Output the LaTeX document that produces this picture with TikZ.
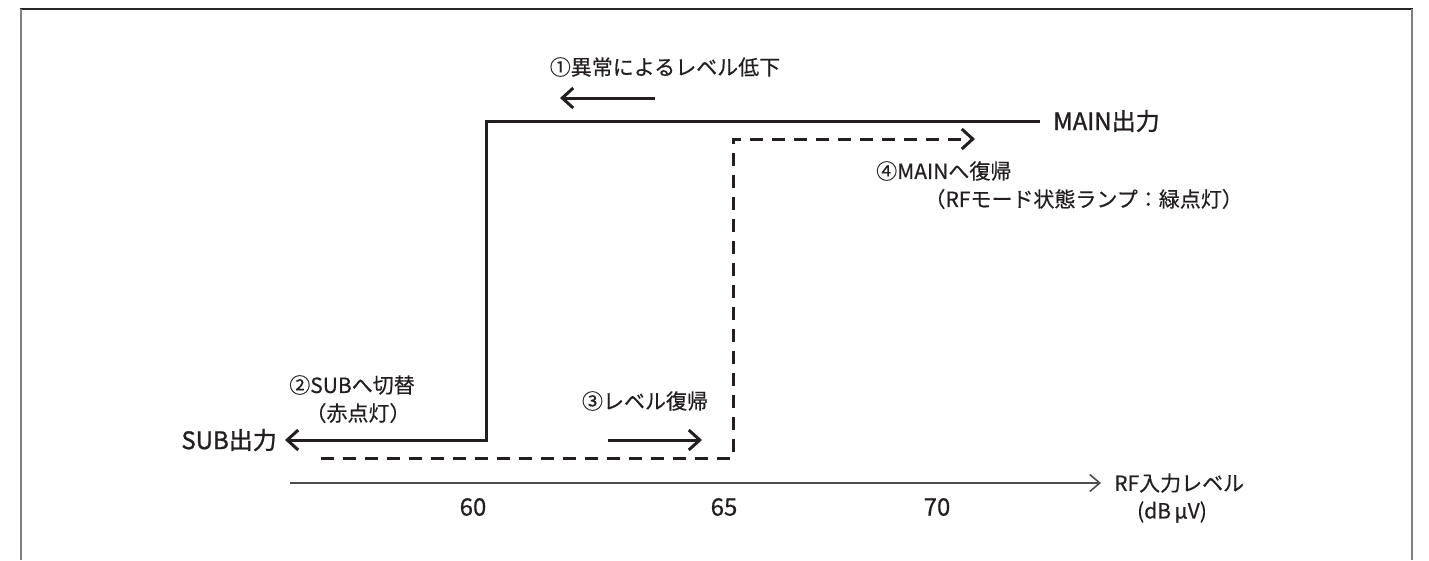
\documentclass[tikz,border=0pt]{standalone}
\usepackage{fontspec}
\setmainfont{Noto Sans CJK JP}
\newfontface\jpmed{Noto Sans CJK JP}[FakeBold=0.5]
\newfontface\jpbold{Noto Sans CJK JP}[FakeBold=1.2]
\usetikzlibrary{arrows.meta}
\definecolor{ink}{HTML}{231F20}
\tikzset{
  lbl/.style={inner sep=0pt, text=ink, font=\jpmed\fontsize{21}{25}\selectfont},
  numlbl/.style={inner sep=0pt, text=ink, font=\jpmed\fontsize{24}{28}\selectfont},
  biglbl/.style={inner sep=0pt, text=ink, font=\jpbold\fontsize{24}{28}\selectfont},
  solidline/.style={line width=3pt, draw=ink},
  dashline/.style={line width=3pt, draw=ink, dash pattern=on 13pt off 9pt},
  barb/.style={-{Straight Barb[length=11pt,width=20pt,line width=3pt]}},
  axisline/.style={line width=1.8pt, draw=ink!80, -{Straight Barb[length=10pt,width=17pt,line width=1.6pt]}},
  frameline/.style={line width=2pt}
}
\begin{document}
\begin{tikzpicture}[x=1pt,y=-1pt]
\useasboundingbox (0,0) rectangle (1429,560);
% frame
\draw[frameline, draw=black!85] (20,9) -- (1413,9);
\draw[frameline, draw=black!50] (21,9) -- (21,560);
\draw[frameline, draw=black!50] (1412,9) -- (1412,560);

% labels
\node[lbl] (l1) at (665,67) {①異常によるレベル低下};
\node[biglbl, anchor=west] (mainout) at (1053,121) {MAIN出力};
\node[lbl, anchor=west] (l4a) at (876,171) {④MAINへ復帰};
\node[lbl, anchor=east] (l4b) at (1243,199) {（RFモード状態ランプ：緑点灯）};
\node[lbl] (l2a) at (352,385) {②SUBへ切替};
\node[lbl] (l2b) at (358,413) {（赤点灯）};
\node[biglbl, anchor=east] (subout) at (277,440) {SUB出力};
\node[lbl] (l3) at (645,401) {③レベル復帰};
\node[numlbl] (t60) at (473,507) {60};
\node[numlbl] (t65) at (724,507) {65};
\node[numlbl] (t70) at (937,507) {70};
\node[lbl, anchor=west] (axl1) at (1114,483) {RF入力レベル};
\node[lbl] (axl2) at (1172,512) {(dB\,μV)};

% coordinates
\coordinate (m1) at (1040,121);
\coordinate (m2) at (486,121);
\coordinate (s1) at (486,440);
\coordinate (stip) at (285,440);
\coordinate (d0) at (321,458);
\coordinate (d1) at (733,458);
\coordinate (d2) at (733,139);
\coordinate (dtip) at (975,139);
\coordinate (a1s) at (655,98);
\coordinate (a1e) at (560,98);
\coordinate (a3s) at (608,440);
\coordinate (a3e) at (702,440);
\coordinate (ax0) at (290,483);
\coordinate (ax1) at (1101,483);

% main/sub output (solid)
\draw[solidline, barb] (m1) -- (m2) -- (s1) -- (stip);
% return path (dashed)
\draw[dashline, barb] (d0) -- (d1) -- (d2) -- (dtip);
% event arrows
\draw[solidline, barb] (a1s) -- (a1e);
\draw[solidline, barb] (a3s) -- (a3e);
% axis
\draw[axisline] (ax0) -- (ax1);
\end{tikzpicture}
\end{document}
